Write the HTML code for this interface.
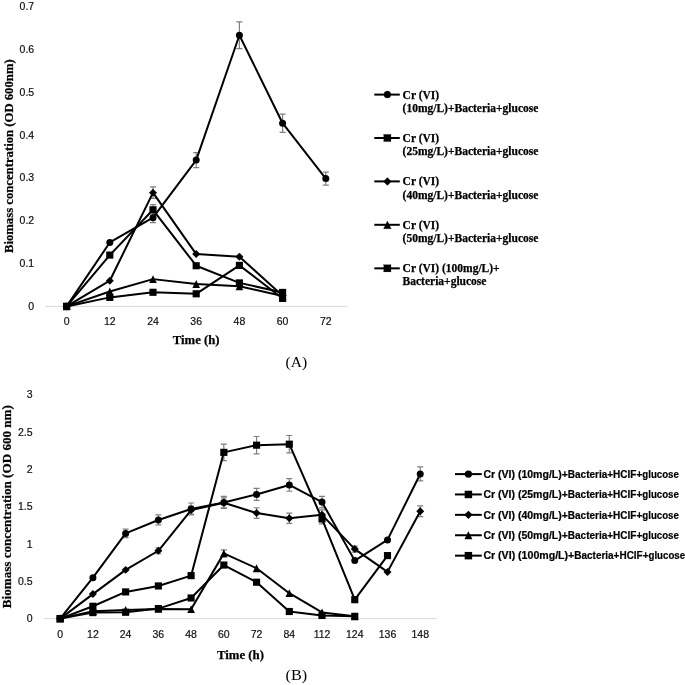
<!DOCTYPE html>
<html><head><meta charset="utf-8"><style>
html,body{margin:0;padding:0;background:#fff;width:685px;height:685px;overflow:hidden}
svg{display:block;filter:grayscale(1)}

</style></head><body>
<svg width="685" height="685" viewBox="0 0 685 685">
<rect width="685" height="685" fill="#fff"/>
<path d="M45 306.4H347.4" stroke="#d9d9d9" stroke-width="1"/>
<path d="M43.8 618.6H436.6" stroke="#d9d9d9" stroke-width="1"/>
<g font-family="Liberation Sans, sans-serif" font-size="10.5" fill="#111" stroke="#111" stroke-width="0.2" text-anchor="end">
<text x="34.2" y="310.15">0</text>
<text x="34.2" y="267.25">0.1</text>
<text x="34.2" y="224.35">0.2</text>
<text x="34.2" y="181.45">0.3</text>
<text x="34.2" y="138.55">0.4</text>
<text x="34.2" y="95.65">0.5</text>
<text x="34.2" y="52.75">0.6</text>
<text x="34.2" y="9.85">0.7</text>
<text x="32.6" y="622.35">0</text>
<text x="32.6" y="584.99">0.5</text>
<text x="32.6" y="547.63">1</text>
<text x="32.6" y="510.27">1.5</text>
<text x="32.6" y="472.92">2</text>
<text x="32.6" y="435.56">2.5</text>
<text x="32.6" y="398.2">3</text>
</g>
<g font-family="Liberation Sans, sans-serif" font-size="10.5" fill="#111" stroke="#111" stroke-width="0.2" text-anchor="middle">
<text x="66.6" y="324.8">0</text>
<text x="109.8" y="324.8">12</text>
<text x="153" y="324.8">24</text>
<text x="196.2" y="324.8">36</text>
<text x="239.4" y="324.8">48</text>
<text x="282.6" y="324.8">60</text>
<text x="325.8" y="324.8">72</text>
<text x="60.17" y="637.9">0</text>
<text x="92.9" y="637.9">12</text>
<text x="125.63" y="637.9">24</text>
<text x="158.37" y="637.9">36</text>
<text x="191.1" y="637.9">48</text>
<text x="223.83" y="637.9">60</text>
<text x="256.57" y="637.9">72</text>
<text x="289.3" y="637.9">84</text>
<text x="322.03" y="637.9">112</text>
<text x="354.77" y="637.9">124</text>
<text x="387.5" y="637.9">136</text>
<text x="420.23" y="637.9">148</text>
</g>
<text font-family="Liberation Serif, serif" font-weight="bold" fill="#000" stroke="#000" stroke-width="0.25" font-size="13.5" text-anchor="middle" transform="translate(13.1 156.2) rotate(-90)" textLength="193.8" lengthAdjust="spacingAndGlyphs">Biomass concentration (OD 600nm)</text>
<text font-family="Liberation Serif, serif" font-weight="bold" fill="#000" stroke="#000" stroke-width="0.25" font-size="13.5" text-anchor="middle" transform="translate(10.9 506.65) rotate(-90)" textLength="203.1" lengthAdjust="spacingAndGlyphs">Biomass concentration (OD 600 nm)</text>
<text font-family="Liberation Serif, serif" font-weight="bold" fill="#000" stroke="#000" stroke-width="0.25" font-size="13.2" x="172.8" y="343.7" textLength="46.8" lengthAdjust="spacingAndGlyphs">Time (h)</text>
<text font-family="Liberation Serif, serif" font-weight="bold" fill="#000" stroke="#000" stroke-width="0.25" font-size="13.2" x="216.9" y="658.7" textLength="47.1" lengthAdjust="spacingAndGlyphs">Time (h)</text>
<text font-family="Liberation Serif, serif" fill="#000" font-size="15.3" x="285.6" y="367" textLength="21.6" lengthAdjust="spacingAndGlyphs">(A)</text>
<text font-family="Liberation Serif, serif" fill="#000" font-size="15.3" x="285.6" y="679.8" textLength="21.6" lengthAdjust="spacingAndGlyphs">(B)</text>
<g stroke="#808080" stroke-width="1.2" fill="none">
<path d="M153 212.68V222.68M150 212.68h6M150 222.68h6"/>
<path d="M196.2 152.61V167.61M193.2 152.61h6M193.2 167.61h6"/>
<path d="M239.4 21.97V48.57M236.4 21.97h6M236.4 48.57h6"/>
<path d="M282.6 114.12V132.32M279.6 114.12h6M279.6 132.32h6"/>
<path d="M325.8 172.06V185.06M322.8 172.06h6M322.8 185.06h6"/>
<path d="M153 204.59V214.99M150 204.59h6M150 214.99h6"/>
<path d="M153 186.83V198.43M150 186.83h6M150 198.43h6"/>
<path d="M125.63 529.12V537.72M122.63 529.12h6M122.63 537.72h6"/>
<path d="M158.37 514.97V524.97M155.37 514.97h6M155.37 524.97h6"/>
<path d="M191.1 502.99V514.99M188.1 502.99h6M188.1 514.99h6"/>
<path d="M223.83 496.42V508.42M220.83 496.42h6M220.83 508.42h6"/>
<path d="M256.57 488.42V500.42M253.57 488.42h6M253.57 500.42h6"/>
<path d="M289.3 478.63V491.23M286.3 478.63h6M286.3 491.23h6"/>
<path d="M322.03 496.32V507.92M319.03 496.32h6M319.03 507.92h6"/>
<path d="M420.23 466.95V480.95M417.23 466.95h6M417.23 480.95h6"/>
<path d="M223.83 444.16V460.56M220.83 444.16h6M220.83 460.56h6"/>
<path d="M256.57 436.48V453.88M253.57 436.48h6M253.57 453.88h6"/>
<path d="M289.3 435.51V452.91M286.3 435.51h6M286.3 452.91h6"/>
<path d="M322.03 513.93V523.93M319.03 513.93h6M319.03 523.93h6"/>
<path d="M158.37 547.76V553.76M155.37 547.76h6M155.37 553.76h6"/>
<path d="M191.1 506.11V514.11M188.1 506.11h6M188.1 514.11h6"/>
<path d="M223.83 497.79V507.79M220.83 497.79h6M220.83 507.79h6"/>
<path d="M256.57 507.73V518.33M253.57 507.73h6M253.57 518.33h6"/>
<path d="M289.3 513.06V523.46M286.3 513.06h6M286.3 523.46h6"/>
<path d="M322.03 509.82V519.82M319.03 509.82h6M319.03 519.82h6"/>
<path d="M354.77 546.11V552.11M351.77 546.11h6M351.77 552.11h6"/>
<path d="M420.23 505.83V516.63M417.23 505.83h6M417.23 516.63h6"/>
<path d="M223.83 549.87V556.87M220.83 549.87h6M220.83 556.87h6"/>
</g>
<path d="M66.6 306.4 L109.8 242.48 L153 217.68 L196.2 160.11 L239.4 35.27 L282.6 123.22 L325.8 178.56" fill="none" stroke="#000" stroke-width="2.0" stroke-linejoin="round"/>
<path d="M66.6 306.4 L109.8 255.09 L153 209.79 L196.2 265.73 L239.4 282.89 L282.6 292.41" fill="none" stroke="#000" stroke-width="2.0" stroke-linejoin="round"/>
<path d="M66.6 306.4 L109.8 280.7 L153 192.63 L196.2 254.06 L239.4 256.64 L282.6 295.8" fill="none" stroke="#000" stroke-width="2.0" stroke-linejoin="round"/>
<path d="M66.6 306.4 L109.8 291.51 L153 279.12 L196.2 284.01 L239.4 286.28 L282.6 296.1" fill="none" stroke="#000" stroke-width="2.0" stroke-linejoin="round"/>
<path d="M66.6 306.4 L109.8 297.39 L153 292.29 L196.2 293.79 L239.4 265.39 L282.6 298.42" fill="none" stroke="#000" stroke-width="2.0" stroke-linejoin="round"/>
<path d="M60.17 618.6 L92.9 577.66 L125.63 533.42 L158.37 519.97 L191.1 508.99 L223.83 502.42 L256.57 494.42 L289.3 484.93 L322.03 502.12 L354.77 560.62 L387.5 539.92 L420.23 473.95" fill="none" stroke="#000" stroke-width="2.0" stroke-linejoin="round"/>
<path d="M60.17 618.6 L92.9 606.27 L125.63 591.93 L158.37 585.95 L191.1 575.64 L223.83 452.36 L256.57 445.18 L289.3 444.21 L322.03 518.93 L354.77 599.7 L387.5 555.61" fill="none" stroke="#000" stroke-width="2.0" stroke-linejoin="round"/>
<path d="M60.17 618.6 L92.9 594.09 L125.63 569.88 L158.37 550.76 L191.1 510.11 L223.83 502.79 L256.57 513.03 L289.3 518.26 L322.03 514.82 L354.77 549.11 L387.5 571.9 L420.23 511.23" fill="none" stroke="#000" stroke-width="2.0" stroke-linejoin="round"/>
<path d="M60.17 618.6 L92.9 611.13 L125.63 610.01 L158.37 608.89 L191.1 609.19 L223.83 553.37 L256.57 568.24 L289.3 593.2 L322.03 612.47 L354.77 616.36" fill="none" stroke="#000" stroke-width="2.0" stroke-linejoin="round"/>
<path d="M60.17 618.6 L92.9 612.62 L125.63 612.25 L158.37 608.59 L191.1 597.98 L223.83 565.03 L256.57 582.21 L289.3 611.5 L322.03 615.46 L354.77 616.36" fill="none" stroke="#000" stroke-width="2.0" stroke-linejoin="round"/>
<g fill="#000">
<circle cx="66.6" cy="306.4" r="3.5"/>
<circle cx="109.8" cy="242.48" r="3.5"/>
<circle cx="153" cy="217.68" r="3.5"/>
<circle cx="196.2" cy="160.11" r="3.5"/>
<circle cx="239.4" cy="35.27" r="3.5"/>
<circle cx="282.6" cy="123.22" r="3.5"/>
<circle cx="325.8" cy="178.56" r="3.5"/>
<rect x="63.03" y="302.83" width="7.14" height="7.14"/>
<rect x="106.23" y="251.52" width="7.14" height="7.14"/>
<rect x="149.43" y="206.22" width="7.14" height="7.14"/>
<rect x="192.63" y="262.16" width="7.14" height="7.14"/>
<rect x="235.83" y="279.32" width="7.14" height="7.14"/>
<rect x="279.03" y="288.84" width="7.14" height="7.14"/>
<path d="M66.6 302.41L70.59 306.4L66.6 310.39L62.61 306.4Z"/>
<path d="M109.8 276.71L113.79 280.7L109.8 284.69L105.81 280.7Z"/>
<path d="M153 188.64L156.99 192.63L153 196.62L149.01 192.63Z"/>
<path d="M196.2 250.07L200.19 254.06L196.2 258.05L192.21 254.06Z"/>
<path d="M239.4 252.65L243.39 256.64L239.4 260.63L235.41 256.64Z"/>
<path d="M282.6 291.81L286.59 295.8L282.6 299.79L278.61 295.8Z"/>
<path d="M66.6 302.48L70.41 310.32L62.78 310.32Z"/>
<path d="M109.8 287.59L113.61 295.43L105.98 295.43Z"/>
<path d="M153 275.2L156.81 283.04L149.19 283.04Z"/>
<path d="M196.2 280.09L200.01 287.93L192.38 287.93Z"/>
<path d="M239.4 282.36L243.21 290.2L235.58 290.2Z"/>
<path d="M282.6 292.18L286.41 300.02L278.78 300.02Z"/>
<rect x="63.03" y="302.83" width="7.14" height="7.14"/>
<rect x="106.23" y="293.82" width="7.14" height="7.14"/>
<rect x="149.43" y="288.72" width="7.14" height="7.14"/>
<rect x="192.63" y="290.22" width="7.14" height="7.14"/>
<rect x="235.83" y="261.82" width="7.14" height="7.14"/>
<rect x="279.03" y="294.85" width="7.14" height="7.14"/>
<circle cx="60.17" cy="618.6" r="3.5"/>
<circle cx="92.9" cy="577.66" r="3.5"/>
<circle cx="125.63" cy="533.42" r="3.5"/>
<circle cx="158.37" cy="519.97" r="3.5"/>
<circle cx="191.1" cy="508.99" r="3.5"/>
<circle cx="223.83" cy="502.42" r="3.5"/>
<circle cx="256.57" cy="494.42" r="3.5"/>
<circle cx="289.3" cy="484.93" r="3.5"/>
<circle cx="322.03" cy="502.12" r="3.5"/>
<circle cx="354.77" cy="560.62" r="3.5"/>
<circle cx="387.5" cy="539.92" r="3.5"/>
<circle cx="420.23" cy="473.95" r="3.5"/>
<rect x="56.6" y="615.03" width="7.14" height="7.14"/>
<rect x="89.33" y="602.7" width="7.14" height="7.14"/>
<rect x="122.06" y="588.36" width="7.14" height="7.14"/>
<rect x="154.8" y="582.38" width="7.14" height="7.14"/>
<rect x="187.53" y="572.07" width="7.14" height="7.14"/>
<rect x="220.26" y="448.79" width="7.14" height="7.14"/>
<rect x="253" y="441.61" width="7.14" height="7.14"/>
<rect x="285.73" y="440.64" width="7.14" height="7.14"/>
<rect x="318.46" y="515.36" width="7.14" height="7.14"/>
<rect x="351.2" y="596.13" width="7.14" height="7.14"/>
<rect x="383.93" y="552.04" width="7.14" height="7.14"/>
<path d="M60.17 614.61L64.16 618.6L60.17 622.59L56.18 618.6Z"/>
<path d="M92.9 590.1L96.89 594.09L92.9 598.08L88.91 594.09Z"/>
<path d="M125.63 565.89L129.62 569.88L125.63 573.87L121.64 569.88Z"/>
<path d="M158.37 546.77L162.36 550.76L158.37 554.75L154.38 550.76Z"/>
<path d="M191.1 506.12L195.09 510.11L191.1 514.1L187.11 510.11Z"/>
<path d="M223.83 498.8L227.82 502.79L223.83 506.78L219.84 502.79Z"/>
<path d="M256.57 509.04L260.56 513.03L256.57 517.02L252.58 513.03Z"/>
<path d="M289.3 514.27L293.29 518.26L289.3 522.25L285.31 518.26Z"/>
<path d="M322.03 510.83L326.02 514.82L322.03 518.81L318.04 514.82Z"/>
<path d="M354.77 545.12L358.76 549.11L354.77 553.1L350.78 549.11Z"/>
<path d="M387.5 567.91L391.49 571.9L387.5 575.89L383.51 571.9Z"/>
<path d="M420.23 507.24L424.22 511.23L420.23 515.22L416.24 511.23Z"/>
<path d="M60.17 614.68L63.98 622.52L56.35 622.52Z"/>
<path d="M92.9 607.21L96.72 615.05L89.09 615.05Z"/>
<path d="M125.63 606.09L129.45 613.93L121.82 613.93Z"/>
<path d="M158.37 604.97L162.18 612.81L154.55 612.81Z"/>
<path d="M191.1 605.27L194.92 613.11L187.29 613.11Z"/>
<path d="M223.83 549.45L227.65 557.29L220.02 557.29Z"/>
<path d="M256.57 564.32L260.38 572.16L252.75 572.16Z"/>
<path d="M289.3 589.28L293.12 597.12L285.49 597.12Z"/>
<path d="M322.03 608.55L325.85 616.39L318.22 616.39Z"/>
<path d="M354.77 612.44L358.58 620.28L350.95 620.28Z"/>
<rect x="56.6" y="615.03" width="7.14" height="7.14"/>
<rect x="89.33" y="609.05" width="7.14" height="7.14"/>
<rect x="122.06" y="608.68" width="7.14" height="7.14"/>
<rect x="154.8" y="605.02" width="7.14" height="7.14"/>
<rect x="187.53" y="594.41" width="7.14" height="7.14"/>
<rect x="220.26" y="561.46" width="7.14" height="7.14"/>
<rect x="253" y="578.64" width="7.14" height="7.14"/>
<rect x="285.73" y="607.93" width="7.14" height="7.14"/>
<rect x="318.46" y="611.89" width="7.14" height="7.14"/>
<rect x="351.2" y="612.79" width="7.14" height="7.14"/>
</g>
<g font-family="Liberation Serif, serif" font-weight="bold" fill="#000" stroke="#000" stroke-width="0.25" font-size="11.5">
<path d="M374.3 94.6H399.8" stroke="#000" stroke-width="2"/>
<circle cx="387.4" cy="94.6" r="3.5"/>
<text x="402.6" y="98.5">Cr (VI)</text>
<text x="402.6" y="111.7">(10mg/L)+Bacteria+glucose</text>
<path d="M374.3 138H399.8" stroke="#000" stroke-width="2"/>
<rect x="383.83" y="134.43" width="7.14" height="7.14"/>
<text x="402.6" y="141.9">Cr (VI)</text>
<text x="402.6" y="155.1">(25mg/L)+Bacteria+glucose</text>
<path d="M374.3 181.4H399.8" stroke="#000" stroke-width="2"/>
<path d="M387.4 177.41L391.39 181.4L387.4 185.39L383.41 181.4Z"/>
<text x="402.6" y="185.3">Cr (VI)</text>
<text x="402.6" y="198.5">(40mg/L)+Bacteria+glucose</text>
<path d="M374.3 224.8H399.8" stroke="#000" stroke-width="2"/>
<path d="M387.4 220.88L391.21 228.72L383.58 228.72Z"/>
<text x="402.6" y="228.7">Cr (VI)</text>
<text x="402.6" y="241.9">(50mg/L)+Bacteria+glucose</text>
<path d="M374.3 268.35H399.8" stroke="#000" stroke-width="2"/>
<rect x="383.83" y="264.78" width="7.14" height="7.14"/>
<text x="402.6" y="272.25">Cr (VI) (100mg/L)+</text>
<text x="402.6" y="285.45">Bacteria+glucose</text>
</g>
<g font-family="Liberation Sans, sans-serif" font-weight="bold" font-size="10" fill="#000">
<path d="M455 474.1H481.8" stroke="#000" stroke-width="2"/>
<circle cx="468.4" cy="474.1" r="3.65"/>
<text x="483.4" y="477.9" textLength="84.5" lengthAdjust="spacingAndGlyphs" stroke="#000" stroke-width="0.2">Cr (VI) (10mg/L)+</text>
<text x="567.8" y="477.9" textLength="74.5" lengthAdjust="spacingAndGlyphs" stroke="#000" stroke-width="0.2">Bacteria+HCIF+</text>
<text x="642.3" y="477.9" textLength="36.6" lengthAdjust="spacingAndGlyphs" stroke="#000" stroke-width="0.2">glucose</text>
<path d="M455 494.45H481.8" stroke="#000" stroke-width="2"/>
<rect x="464.68" y="490.73" width="7.45" height="7.45"/>
<text x="483.4" y="498.25" textLength="84.5" lengthAdjust="spacingAndGlyphs" stroke="#000" stroke-width="0.2">Cr (VI) (25mg/L)+</text>
<text x="567.8" y="498.25" textLength="74.5" lengthAdjust="spacingAndGlyphs" stroke="#000" stroke-width="0.2">Bacteria+HCIF+</text>
<text x="642.3" y="498.25" textLength="36.6" lengthAdjust="spacingAndGlyphs" stroke="#000" stroke-width="0.2">glucose</text>
<path d="M455 514.85H481.8" stroke="#000" stroke-width="2"/>
<path d="M468.4 510.69L472.56 514.85L468.4 519.01L464.24 514.85Z"/>
<text x="483.4" y="518.65" textLength="84.5" lengthAdjust="spacingAndGlyphs" stroke="#000" stroke-width="0.2">Cr (VI) (40mg/L)+</text>
<text x="567.8" y="518.65" textLength="74.5" lengthAdjust="spacingAndGlyphs" stroke="#000" stroke-width="0.2">Bacteria+HCIF+</text>
<text x="642.3" y="518.65" textLength="36.6" lengthAdjust="spacingAndGlyphs" stroke="#000" stroke-width="0.2">glucose</text>
<path d="M455 535.25H481.8" stroke="#000" stroke-width="2"/>
<path d="M468.4 531.16L472.38 539.34L464.42 539.34Z"/>
<text x="483.4" y="539.05" textLength="84.5" lengthAdjust="spacingAndGlyphs" stroke="#000" stroke-width="0.2">Cr (VI) (50mg/L)+</text>
<text x="567.8" y="539.05" textLength="74.5" lengthAdjust="spacingAndGlyphs" stroke="#000" stroke-width="0.2">Bacteria+HCIF+</text>
<text x="642.3" y="539.05" textLength="36.6" lengthAdjust="spacingAndGlyphs" stroke="#000" stroke-width="0.2">glucose</text>
<path d="M455 555.65H481.8" stroke="#000" stroke-width="2"/>
<rect x="464.68" y="551.93" width="7.45" height="7.45"/>
<text x="483.4" y="559.45" textLength="90.9" lengthAdjust="spacingAndGlyphs" stroke="#000" stroke-width="0.2">Cr (VI) (100mg/L)+</text>
<text x="574.3" y="559.45" textLength="74.2" lengthAdjust="spacingAndGlyphs" stroke="#000" stroke-width="0.2">Bacteria+HCIF+</text>
<text x="648.5" y="559.45" textLength="36.6" lengthAdjust="spacingAndGlyphs" stroke="#000" stroke-width="0.2">glucose</text>
</g>
</svg>
</body></html>
